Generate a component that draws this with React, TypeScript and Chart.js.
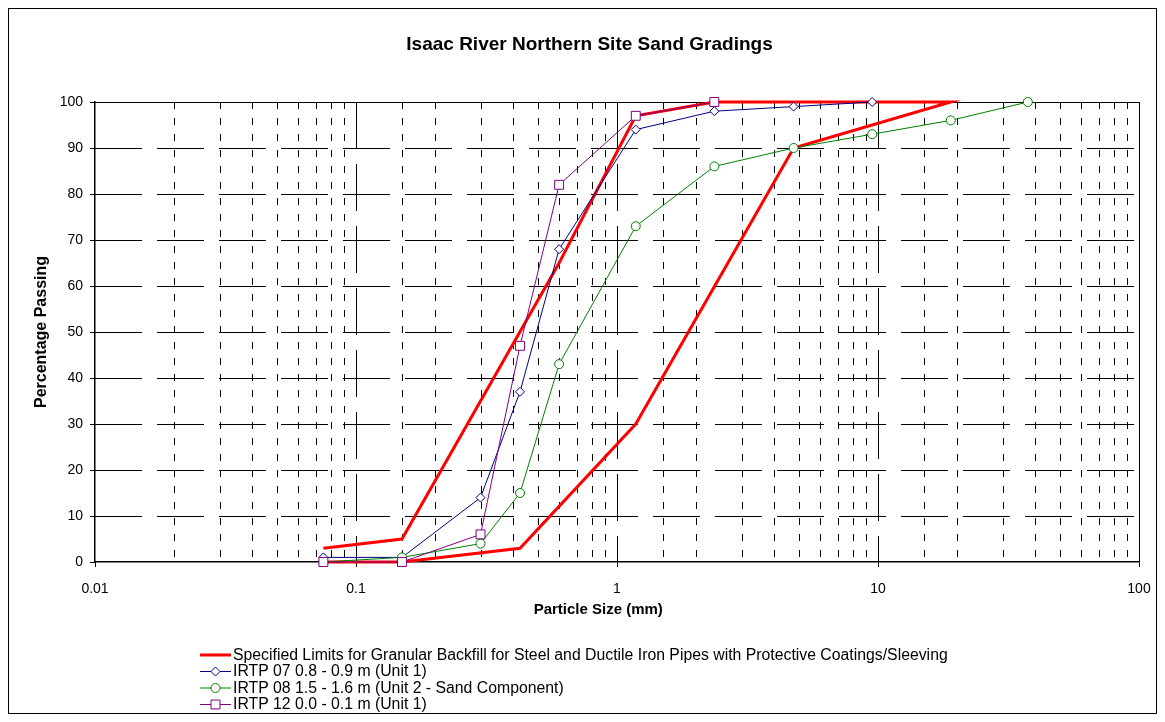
import React, { useEffect, useRef } from "react";
import { Chart, registerables } from "chart.js";

Chart.register(...registerables);

const FONT = '"Liberation Sans", Arial, Helvetica, sans-serif';

const chartTitle = "Isaac River Northern Site Sand Gradings";
const xAxisTitle = "Particle Size (mm)";
const yAxisTitle = "Percentage Passing";

const seriesNames = [
  "Specified Limits for Granular Backfill for Steel and Ductile Iron Pipes with Protective Coatings/Sleeving",
  "IRTP 07 0.8 - 0.9 m (Unit 1)",
  "IRTP 08 1.5 - 1.6 m (Unit 2 - Sand Component)",
  "IRTP 12 0.0 - 0.1 m (Unit 1)",
];

// Specified limits envelope (upper limit then back along lower limit)
const limitSize = [0.075, 0.15, 0.6, 1.18, 2.36, 19, 4.75, 1.18, 0.425, 0.15, 0.075];
const limitPassing = [3, 5, 65, 97, 100, 100, 90, 30, 3, 0, 0];

const irtp07Size = [0.075, 0.15, 0.3, 0.425, 0.6, 1.18, 2.36, 4.75, 9.5];
const irtp07Passing = [1, 1, 14, 37, 68, 94, 98, 99, 100];

const irtp08Size = [0.075, 0.15, 0.3, 0.425, 0.6, 1.18, 2.36, 4.75, 9.5, 19, 37.5];
const irtp08Passing = [0, 1, 4, 15, 43, 73, 86, 90, 93, 96, 100];

const irtp12Size = [0.075, 0.15, 0.3, 0.425, 0.6, 1.18, 2.36];
const irtp12Passing = [0, 0, 6, 47, 82, 97, 100];

const xTickValues = [0.01, 0.1, 1, 10, 100];
const xTickLabels = ["0.01", "0.1", "1", "10", "100"];
const yMin = 0;
const yMax = 100;
const yStep = 10;

const toPoints = (xs: number[], ys: number[]) => xs.map((x, i) => ({ x, y: ys[i] }));

const majorIndex = (v: number) =>
  xTickValues.findIndex((t) => Math.abs(Math.log10(v) - Math.log10(t)) < 1e-6);

function drawMarker(ctx: CanvasRenderingContext2D, style: string, x: number, y: number, r: number, fill: string, stroke: string, lw: number) {
  ctx.save();
  ctx.setLineDash([]);
  ctx.beginPath();
  if (style === "circle") {
    ctx.arc(x, y, r, 0, Math.PI * 2);
  } else if (style === "rectRot") {
    ctx.moveTo(x - r, y);
    ctx.lineTo(x, y - r);
    ctx.lineTo(x + r, y);
    ctx.lineTo(x, y + r);
    ctx.closePath();
  } else {
    const s = r * Math.SQRT1_2;
    ctx.rect(x - s, y - s, 2 * s, 2 * s);
  }
  ctx.fillStyle = fill;
  ctx.fill();
  ctx.strokeStyle = stroke;
  ctx.lineWidth = lw;
  ctx.stroke();
  ctx.restore();
}

const LEGEND_X = 177;
const LEGEND_LINE = 31;
const LEGEND_TOP = 646;
const LEGEND_ROW = 16.5;

const rowLegend = {
  id: "rowLegend",
  afterDraw(chart: any) {
    const { ctx } = chart;
    ctx.save();
    ctx.font = `15.8px ${FONT}`;
    ctx.textBaseline = "middle";
    ctx.textAlign = "left";
    chart.data.datasets.forEach((ds: any, i: number) => {
      const y = LEGEND_TOP + i * LEGEND_ROW;
      ctx.setLineDash([]);
      ctx.strokeStyle = ds.borderColor;
      ctx.lineWidth = ds.borderWidth;
      ctx.beginPath();
      ctx.moveTo(LEGEND_X, y);
      ctx.lineTo(LEGEND_X + LEGEND_LINE, y);
      ctx.stroke();
      if (ds.pointRadius > 0) {
        drawMarker(ctx, ds.pointStyle, LEGEND_X + LEGEND_LINE / 2, y, ds.pointRadius, ds.pointBackgroundColor, ds.pointBorderColor, ds.pointBorderWidth);
      }
      ctx.fillStyle = "#000";
      ctx.fillText(ds.label, LEGEND_X + LEGEND_LINE + 2, y + 0.5);
    });
    ctx.restore();
  },
};

// Dashed grid: long dashes for major lines, short dashes for minor log lines
const dashGrid = {
  id: "dashGrid",
  beforeDatasetsDraw(chart: any) {
    const { ctx, chartArea: a, scales } = chart;
    const xs = scales.x;
    const ys = scales.y;
    ctx.save();
    ctx.strokeStyle = "#000";
    ctx.lineWidth = 1;
    xs.ticks.forEach((t: any, i: number) => {
      if (i === 0) return;
      const px = Math.round(xs.getPixelForValue(t.value)) + 0.5;
      const m = majorIndex(t.value);
      ctx.setLineDash(m === -1 ? [7, 9] : m === xTickValues.length - 1 ? [] : [47, 15]);
      ctx.beginPath();
      ctx.moveTo(px, a.top);
      ctx.lineTo(px, a.bottom);
      ctx.stroke();
    });
    ys.ticks.forEach((t: any) => {
      if (t.value === yMin) return;
      const py = Math.round(ys.getPixelForValue(t.value)) + 0.5;
      ctx.setLineDash(t.value === yMax ? [] : [47, 15]);
      ctx.beginPath();
      ctx.moveTo(a.left, py);
      ctx.lineTo(a.right, py);
      ctx.stroke();
    });
    ctx.restore();
  },
};

export default function App() {
  const canvasRef = useRef<HTMLCanvasElement | null>(null);

  useEffect(() => {
    if (!canvasRef.current) return;
    const lineDs = (label: string, xs: number[], ys: number[], color: string, width: number, style: string, radius: number, order: number) => ({
      label,
      data: toPoints(xs, ys),
      showLine: true,
      borderColor: color,
      backgroundColor: color,
      borderWidth: width,
      pointStyle: style,
      pointRadius: radius,
      pointHoverRadius: radius,
      pointBackgroundColor: "#ffffff",
      pointBorderColor: color,
      pointBorderWidth: 1,
      tension: 0,
      fill: false,
      clip: false,
      order,
    });

    const chart = new Chart(canvasRef.current, {
      type: "scatter",
      data: {
        datasets: [
          lineDs(seriesNames[0], limitSize, limitPassing, "#ff0000", 3, "circle", 0, 3),
          lineDs(seriesNames[1], irtp07Size, irtp07Passing, "#000080", 1, "rectRot", 4.5, 2),
          lineDs(seriesNames[2], irtp08Size, irtp08Passing, "#008000", 1, "circle", 4.5, 1),
          lineDs(seriesNames[3], irtp12Size, irtp12Passing, "#800080", 1, "rect", 6.3, 0),
        ] as any,
      },
      plugins: [dashGrid, rowLegend],
      options: {
        animation: false,
        responsive: false,
        maintainAspectRatio: false,
        events: [],
        layout: { padding: { left: 0, right: 0, top: 0, bottom: 91 } },
        plugins: {
          legend: { display: false },
          tooltip: { enabled: false },
          title: {
            display: true,
            text: chartTitle,
            color: "#000",
            font: { family: FONT, size: 19, weight: "bold" },
            padding: { top: 24.6, bottom: 45.6 },
          },
        },
        scales: {
          x: {
            type: "logarithmic",
            position: "bottom",
            min: 0.01,
            max: 100,
            afterFit: (s: any) => {
              s.height = 60;
              s.paddingLeft = 0;
              s.paddingRight = 0;
            },
            border: { display: true, color: "#000", width: 1.5 },
            grid: {
              drawOnChartArea: false,
              color: "#000",
              lineWidth: 1,
              tickLength: 5,
              tickBorderDash: [],
              tickColor: (c: any) => (c.tick && majorIndex(c.tick.value) !== -1 ? "#000" : "rgba(0,0,0,0)"),
            },
            ticks: {
              autoSkip: false,
              maxRotation: 0,
              minRotation: 0,
              padding: 14,
              color: "#000",
              font: { family: FONT, size: 14 },
              callback: (value: any) => {
                const m = majorIndex(Number(value));
                return m === -1 ? "" : xTickLabels[m];
              },
            },
            title: {
              display: true,
              text: xAxisTitle + "         ",
              color: "#000",
              font: { family: FONT, size: 15, weight: "bold" },
              padding: { top: 0, bottom: 3 },
            },
          },
          y: {
            type: "linear",
            position: "left",
            min: yMin,
            max: yMax,
            afterFit: (s: any) => {
              s.width = 72;
            },
            border: { display: true, color: "#000", width: 1.5 },
            grid: {
              drawOnChartArea: false,
              color: "#000",
              lineWidth: 1,
              tickLength: 5,
              tickBorderDash: [],
              tickColor: "#000",
            },
            ticks: {
              stepSize: yStep,
              padding: 7,
              color: "#000",
              font: { family: FONT, size: 14 },
            },
            title: {
              display: true,
              text: yAxisTitle,
              color: "#000",
              font: { family: FONT, size: 16, weight: "bold" },
              padding: { top: 8.9, bottom: 0 },
            },
          },
          yRight: {
            type: "linear",
            position: "right",
            display: true,
            afterFit: (s: any) => {
              s.width = 17;
            },
            grid: { display: false, drawOnChartArea: false },
            border: { display: false },
            ticks: { display: false },
          },
        },
      } as any,
    });
    return () => chart.destroy();
  }, []);

  return (
    <div
      style={{
        width: 1149,
        height: 706,
        border: "1px solid #000",
        boxSizing: "border-box",
        position: "relative",
        background: "#fff",
      }}
    >
      <canvas
        ref={canvasRef}
        width={1133}
        height={704}
        style={{ position: "absolute", left: 14, top: 0, width: 1133, height: 704 }}
      />
    </div>
  );
}
